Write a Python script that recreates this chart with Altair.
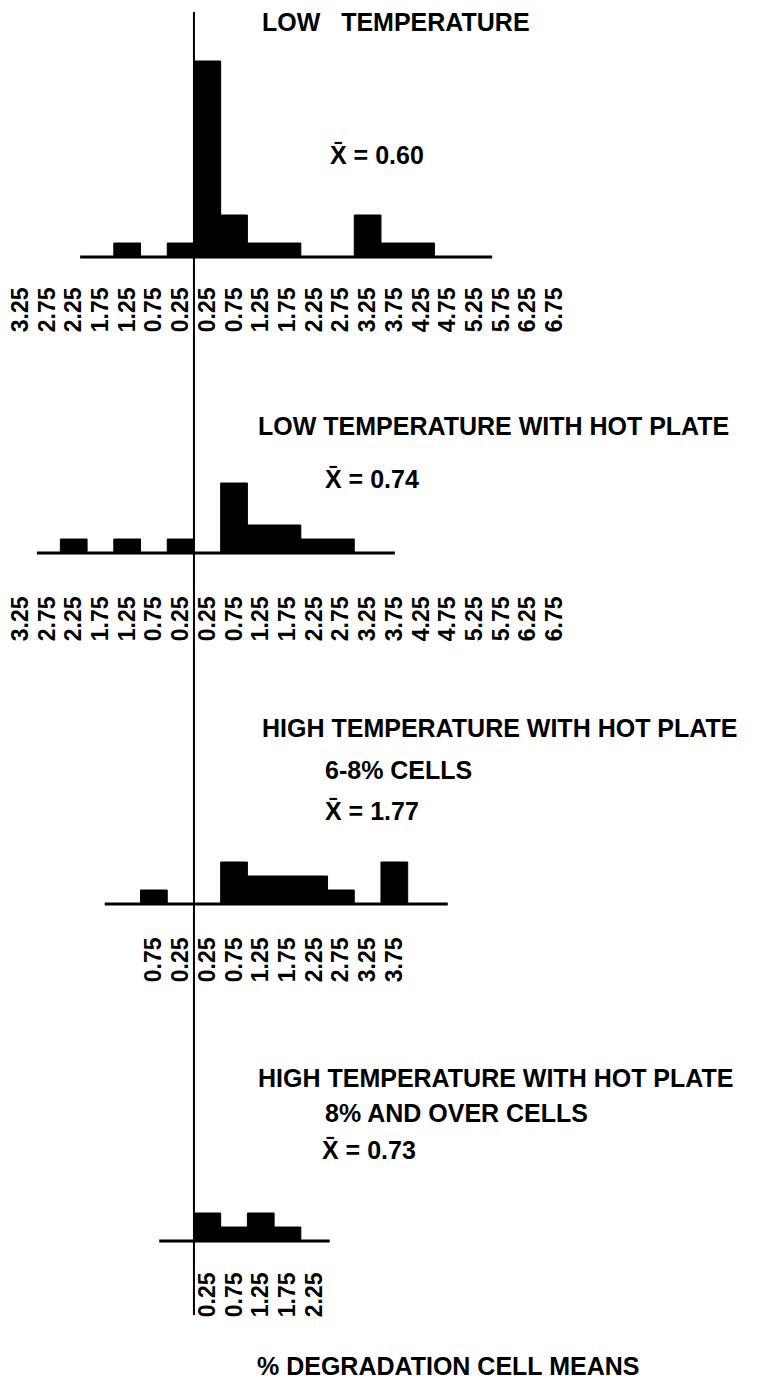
import altair as alt
import pandas as pd

# ---- data ----
p1_centers = [-1.25, -0.25, 0.25, 0.75, 1.25, 1.75, 3.25, 3.75, 4.25]
p1_counts = [1, 1, 14, 3, 1, 1, 3, 1, 1]
p2_centers = [-2.25, -1.25, -0.25, 0.75, 1.25, 1.75, 2.25, 2.75]
p2_counts = [1, 1, 1, 5, 2, 2, 1, 1]
p3_centers = [-0.75, 0.75, 1.25, 1.75, 2.25, 2.75, 3.75]
p3_counts = [1, 3, 2, 2, 2, 1, 3]
p4_centers = [0.25, 0.75, 1.25, 1.75]
p4_counts = [2, 1, 2, 1]

ticks_full = [-3.25, -2.75, -2.25, -1.75, -1.25, -0.75, -0.25,
              0.25, 0.75, 1.25, 1.75, 2.25, 2.75, 3.25, 3.75, 4.25,
              4.75, 5.25, 5.75, 6.25, 6.75]
ticks_p3 = [-0.75, -0.25, 0.25, 0.75, 1.25, 1.75, 2.25, 2.75, 3.25, 3.75]
ticks_p4 = [0.25, 0.75, 1.25, 1.75, 2.25]

axis_start = [-2.13, -2.94, -1.67, -0.65]
axis_end = [5.58, 3.76, 4.75, 2.54]

titles = [
    ["LOW\u00a0\u00a0\u00a0TEMPERATURE", "X\u0304 = 0.60"],
    ["LOW TEMPERATURE WITH HOT PLATE", "X\u0304 = 0.74"],
    ["HIGH TEMPERATURE WITH HOT PLATE", "6-8% CELLS", "X\u0304 = 1.77"],
    ["HIGH TEMPERATURE WITH HOT PLATE", "8% AND OVER CELLS", "X\u0304 = 0.73"],
]
x_axis_title = "% DEGRADATION CELL MEANS"

# ---- layout / style ----
FONT = "Liberation Sans"
W = 560
XDOM = [-3.48, 7.0]
PX_PER_COUNT = 14
heights = [249, 296, 351, 337]
label_pad = [30, 43, 33, 31]
text_pos = [
    [(254, 14.5), (322, 148)],
    [(250, 170), (317, 223)],
    [(254, 176), (317, 218), (317, 259)],
    [(250, 175), (317, 210), (314, 247)],
]
vrule = [(4, 249), (-1, 296), (-1, 351), (-1, 337 + 74)]

xscale = alt.Scale(domain=XDOM, nice=False, zero=False)


def make_axis(i, tickvals):
    return alt.Axis(
        values=tickvals, labelExpr="format(abs(datum.value), '.2f')",
        labelAngle=270, labelFont=FONT, labelFontWeight="bold",
        labelFontSize=23, labelColor="black", labelPadding=label_pad[i],
        labelFlush=False, labelOverlap=False, labelBound=False,
        domain=False, ticks=False, tickSize=0, grid=False, title=None)


def text_layer(s, x, y, size=25):
    return alt.Chart(pd.DataFrame({"t": [s]})).mark_text(
        font=FONT, fontWeight="bold", fontSize=size, align="left",
        baseline="middle", color="black"
    ).encode(text="t:N", x=alt.value(x), y=alt.value(y))


def panel(i, centers, counts, tickvals, extra=None):
    H = heights[i]
    ax = make_axis(i, tickvals)
    yscale = alt.Scale(domain=[0, H / PX_PER_COUNT], nice=False, zero=True)
    df = pd.DataFrame({
        "lo": [c - 0.25 for c in centers],
        "hi": [c + 0.25 for c in centers],
        "n": counts,
    })
    bars = alt.Chart(df).mark_bar(color="black", stroke="black", strokeWidth=1).encode(
        x=alt.X("lo:Q", scale=xscale, axis=ax),
        x2="hi:Q",
        y=alt.Y("n:Q", scale=yscale, axis=None),
        y2=alt.datum(0),
    )
    base = alt.Chart(pd.DataFrame({"lo": [axis_start[i]], "hi": [axis_end[i]]})).mark_rule(
        color="black", strokeWidth=3
    ).encode(x=alt.X("lo:Q", scale=xscale, axis=ax), x2="hi:Q", y=alt.value(H))
    top, bot = vrule[i]
    vline = alt.Chart(pd.DataFrame({"lo": [0]})).mark_rule(
        color="black", strokeWidth=2
    ).encode(x=alt.X("lo:Q", scale=xscale, axis=ax),
             y=alt.value(top), y2=alt.value(bot))
    layers = [bars, base, vline]
    for s, (tx, ty) in zip(titles[i], text_pos[i]):
        layers.append(text_layer(s, tx, ty))
    if extra:
        layers.extend(extra)
    return alt.layer(*layers).properties(width=W, height=H)


p1 = panel(0, p1_centers, p1_counts, ticks_full)
p2 = panel(1, p2_centers, p2_counts, ticks_full)
p3 = panel(2, p3_centers, p3_counts, ticks_p3)
p4 = panel(3, p4_centers, p4_counts, ticks_p4,
           extra=[text_layer(x_axis_title, 249, 463)])

chart = alt.vconcat(p1, p2, p3, p4, spacing=0, bounds="flush").properties(
    padding=0, background="white"
).configure_view(strokeWidth=0, stroke="transparent")

chart.save("out.html", embed_options={"renderer": "svg", "actions": False})
